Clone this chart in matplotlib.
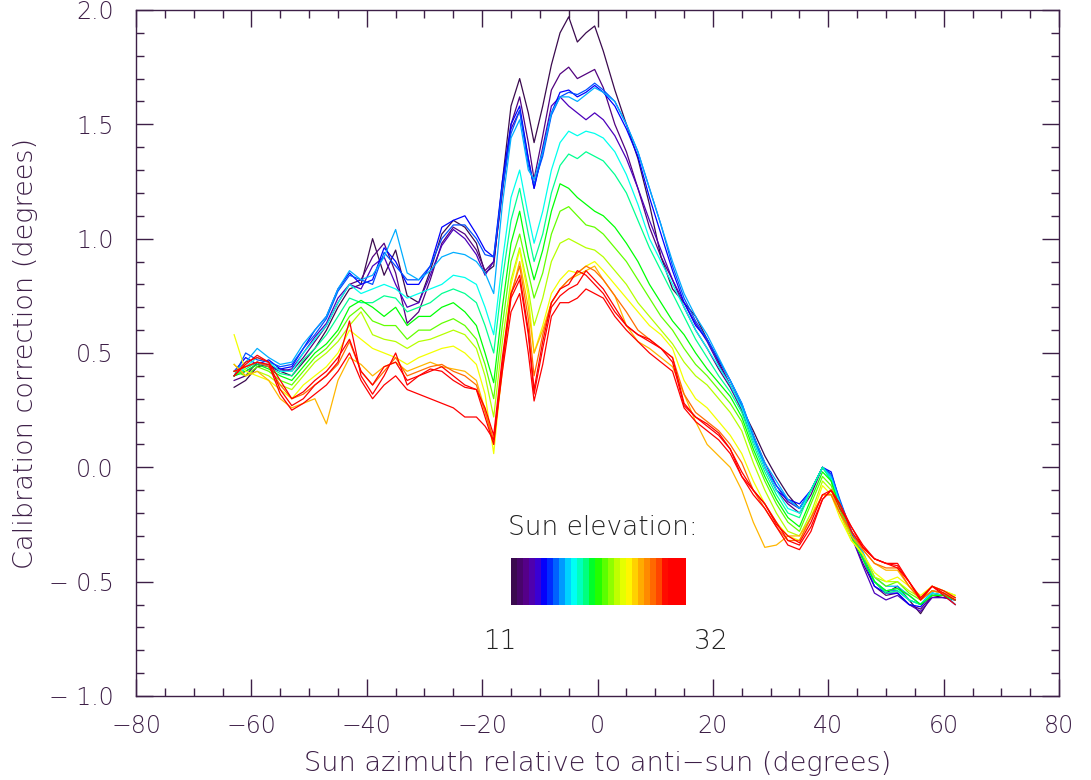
import numpy as np
import matplotlib
matplotlib.use("Agg")
import matplotlib.pyplot as plt
from matplotlib.colors import LinearSegmentedColormap
from matplotlib.ticker import MultipleLocator

# Azimuth grid (degrees relative to anti-sun)
azimuth = [-63, -61, -59, -57, -55, -53, -51, -49, -47, -45, -43, -41, -39, -37, -35, -33,
           -31, -29, -27, -25, -23, -21,
           -19.5, -18, -16.5, -15, -13.5, -12, -11, -9.5, -8, -6.5, -5, -3.5, -2, -0.5,
           1, 3, 5, 7, 9, 11, 13, 15, 17, 19, 21, 23, 25, 27, 29, 31, 33, 35, 37, 39,
           40.5, 42, 44, 46, 48, 50, 52, 54, 56, 58, 60, 62]

# Position of each curve along the colour scale (0 = lowest sun, 1 = highest)
elev_pos = [0.0, 0.06, 0.12, 0.18, 0.24, 0.30, 0.36, 0.42, 0.48, 0.54, 0.60, 0.66,
            0.74, 0.82, 0.90, 0.95, 1.0]

corr_a = [0.35, 0.38, 0.44, 0.45, 0.42, 0.40, 0.46, 0.52, 0.60, 0.70, 0.78, 0.80, 1.00, 0.84, 0.95, 0.75,
          0.72, 0.86, 1.02, 1.08, 1.05, 0.98,
          0.85, 0.88, 1.25, 1.58, 1.70, 1.55, 1.42, 1.58, 1.76, 1.90, 1.97, 1.86, 1.90, 1.93,
          1.82, 1.65, 1.50, 1.35, 1.15, 0.92, 0.78, 0.72, 0.66, 0.56, 0.46, 0.36, 0.26, 0.16, 0.05, -0.04, -0.12, -0.18, -0.10, 0.00,
          -0.05, -0.15, -0.28, -0.40, -0.50, -0.55, -0.52, -0.58, -0.64, -0.56, -0.57, -0.58]
corr_b = [0.38, 0.40, 0.46, 0.44, 0.43, 0.42, 0.48, 0.55, 0.62, 0.72, 0.80, 0.82, 0.92, 0.98, 0.85, 0.63,
          0.68, 0.82, 0.98, 1.05, 1.02, 0.95,
          0.86, 0.90, 1.20, 1.50, 1.62, 1.42, 1.26, 1.45, 1.65, 1.72, 1.75, 1.70, 1.72, 1.74,
          1.66, 1.50, 1.38, 1.22, 1.05, 0.92, 0.82, 0.70, 0.60, 0.52, 0.43, 0.35, 0.25, 0.12, 0.00, -0.10, -0.16, -0.20, -0.12, 0.00,
          -0.03, -0.16, -0.30, -0.42, -0.52, -0.56, -0.55, -0.60, -0.62, -0.56, -0.56, -0.58]
corr_c = [0.40, 0.42, 0.45, 0.44, 0.42, 0.43, 0.50, 0.57, 0.63, 0.74, 0.80, 0.78, 0.88, 0.92, 0.80, 0.70,
          0.72, 0.84, 0.97, 1.04, 1.00, 0.93,
          0.84, 0.90, 1.22, 1.48, 1.56, 1.35, 1.22, 1.40, 1.58, 1.62, 1.58, 1.55, 1.52, 1.55,
          1.52, 1.45, 1.35, 1.22, 1.08, 0.95, 0.82, 0.72, 0.63, 0.55, 0.45, 0.36, 0.26, 0.14, 0.02, -0.08, -0.15, -0.18, -0.10, 0.00,
          -0.05, -0.18, -0.30, -0.43, -0.55, -0.58, -0.56, -0.60, -0.63, -0.57, -0.57, -0.58]
corr_d = [0.42, 0.48, 0.45, 0.47, 0.43, 0.44, 0.52, 0.60, 0.66, 0.78, 0.85, 0.80, 0.82, 0.96, 0.90, 0.80,
          0.80, 0.88, 1.05, 1.08, 1.10, 1.02,
          0.95, 0.92, 1.25, 1.50, 1.58, 1.35, 1.22, 1.38, 1.55, 1.64, 1.65, 1.62, 1.64, 1.67,
          1.64, 1.58, 1.48, 1.36, 1.18, 1.02, 0.86, 0.72, 0.62, 0.56, 0.47, 0.38, 0.28, 0.14, 0.00, -0.10, -0.14, -0.16, -0.10, 0.00,
          -0.02, -0.15, -0.28, -0.40, -0.52, -0.55, -0.55, -0.60, -0.61, -0.55, -0.56, -0.60]
corr_e = [0.40, 0.50, 0.47, 0.46, 0.44, 0.45, 0.52, 0.58, 0.65, 0.77, 0.84, 0.82, 0.80, 0.94, 0.88, 0.82,
          0.82, 0.88, 1.00, 1.06, 1.06, 1.00,
          0.93, 0.92, 1.22, 1.46, 1.56, 1.32, 1.24, 1.36, 1.54, 1.62, 1.64, 1.63, 1.65, 1.68,
          1.65, 1.60, 1.50, 1.38, 1.22, 1.06, 0.88, 0.74, 0.64, 0.56, 0.47, 0.38, 0.27, 0.12, 0.00, -0.08, -0.14, -0.18, -0.10, 0.00,
          -0.03, -0.14, -0.28, -0.38, -0.50, -0.54, -0.54, -0.58, -0.60, -0.55, -0.56, -0.58]
corr_f = [0.42, 0.46, 0.52, 0.48, 0.45, 0.46, 0.54, 0.60, 0.66, 0.78, 0.86, 0.82, 0.84, 0.92, 1.04, 0.85,
          0.82, 0.86, 0.92, 0.94, 0.93, 0.90,
          0.85, 0.76, 1.15, 1.44, 1.52, 1.30, 1.26, 1.38, 1.55, 1.62, 1.62, 1.60, 1.63, 1.66,
          1.64, 1.60, 1.50, 1.38, 1.22, 1.06, 0.90, 0.76, 0.66, 0.58, 0.48, 0.38, 0.28, 0.14, 0.02, -0.06, -0.14, -0.18, -0.10, 0.00,
          -0.04, -0.15, -0.28, -0.37, -0.48, -0.52, -0.52, -0.56, -0.60, -0.54, -0.55, -0.60]
corr_g = [0.40, 0.44, 0.48, 0.46, 0.42, 0.42, 0.50, 0.56, 0.62, 0.72, 0.80, 0.76, 0.78, 0.80, 0.78, 0.74,
          0.76, 0.78, 0.80, 0.84, 0.83, 0.80,
          0.70, 0.58, 0.90, 1.18, 1.30, 1.10, 0.98, 1.12, 1.30, 1.42, 1.47, 1.45, 1.47, 1.46,
          1.44, 1.38, 1.28, 1.15, 1.00, 0.90, 0.80, 0.70, 0.60, 0.52, 0.44, 0.36, 0.26, 0.12, 0.00, -0.10, -0.18, -0.20, -0.10, 0.00,
          -0.05, -0.16, -0.30, -0.40, -0.50, -0.54, -0.53, -0.58, -0.60, -0.55, -0.56, -0.58]
corr_h = [0.40, 0.43, 0.46, 0.44, 0.41, 0.40, 0.47, 0.52, 0.58, 0.66, 0.74, 0.72, 0.72, 0.75, 0.74, 0.68,
          0.70, 0.72, 0.76, 0.78, 0.76, 0.72,
          0.62, 0.50, 0.82, 1.08, 1.22, 1.02, 0.90, 1.02, 1.20, 1.32, 1.37, 1.35, 1.38, 1.36,
          1.34, 1.28, 1.20, 1.08, 0.96, 0.86, 0.76, 0.66, 0.56, 0.48, 0.40, 0.33, 0.24, 0.10, -0.02, -0.12, -0.20, -0.22, -0.10, 0.00,
          -0.06, -0.18, -0.30, -0.40, -0.50, -0.55, -0.54, -0.58, -0.60, -0.56, -0.56, -0.58]
corr_i = [0.40, 0.42, 0.45, 0.43, 0.40, 0.38, 0.44, 0.50, 0.54, 0.60, 0.70, 0.73, 0.70, 0.66, 0.70, 0.62,
          0.66, 0.66, 0.70, 0.72, 0.68, 0.62,
          0.50, 0.37, 0.70, 0.98, 1.12, 0.92, 0.82, 0.95, 1.12, 1.24, 1.22, 1.18, 1.15, 1.12,
          1.10, 1.05, 0.98, 0.90, 0.80, 0.72, 0.64, 0.58, 0.50, 0.43, 0.37, 0.31, 0.22, 0.08, -0.04, -0.14, -0.22, -0.26, -0.14, -0.02,
          -0.06, -0.18, -0.30, -0.40, -0.50, -0.54, -0.53, -0.56, -0.60, -0.56, -0.56, -0.58]
corr_j = [0.42, 0.40, 0.44, 0.42, 0.38, 0.36, 0.42, 0.48, 0.52, 0.58, 0.66, 0.70, 0.64, 0.62, 0.62, 0.56,
          0.60, 0.60, 0.63, 0.65, 0.62, 0.56,
          0.45, 0.30, 0.62, 0.90, 1.02, 0.85, 0.74, 0.85, 1.02, 1.12, 1.14, 1.10, 1.06, 1.05,
          1.02, 0.96, 0.90, 0.82, 0.74, 0.66, 0.60, 0.52, 0.45, 0.40, 0.34, 0.28, 0.20, 0.06, -0.06, -0.16, -0.24, -0.28, -0.16, -0.04,
          -0.08, -0.18, -0.30, -0.38, -0.48, -0.52, -0.50, -0.55, -0.58, -0.54, -0.55, -0.57]
corr_k = [0.45, 0.40, 0.42, 0.40, 0.36, 0.34, 0.40, 0.46, 0.50, 0.55, 0.62, 0.68, 0.58, 0.56, 0.55, 0.52,
          0.55, 0.56, 0.58, 0.60, 0.58, 0.52,
          0.40, 0.22, 0.55, 0.82, 0.96, 0.78, 0.62, 0.74, 0.90, 0.98, 1.00, 0.98, 0.96, 0.95,
          0.92, 0.86, 0.80, 0.72, 0.66, 0.60, 0.54, 0.46, 0.40, 0.36, 0.30, 0.24, 0.16, 0.02, -0.10, -0.20, -0.28, -0.30, -0.20, -0.06,
          -0.10, -0.20, -0.32, -0.38, -0.48, -0.50, -0.50, -0.54, -0.57, -0.52, -0.54, -0.56]
corr_l = [0.58, 0.42, 0.40, 0.38, 0.34, 0.30, 0.36, 0.40, 0.44, 0.50, 0.60, 0.56, 0.52, 0.50, 0.48, 0.45,
          0.48, 0.50, 0.52, 0.53, 0.50, 0.45,
          0.32, 0.06, 0.45, 0.80, 0.95, 0.75, 0.50, 0.62, 0.76, 0.82, 0.86, 0.85, 0.88, 0.90,
          0.86, 0.80, 0.74, 0.68, 0.62, 0.58, 0.52, 0.38, 0.30, 0.26, 0.20, 0.14, 0.06, -0.06, -0.16, -0.24, -0.30, -0.32, -0.22, -0.08,
          -0.12, -0.22, -0.32, -0.38, -0.46, -0.50, -0.48, -0.52, -0.56, -0.52, -0.54, -0.56]
corr_m = [0.45, 0.40, 0.42, 0.38, 0.30, 0.26, 0.28, 0.30, 0.19, 0.38, 0.48, 0.45, 0.40, 0.44, 0.46, 0.42,
          0.44, 0.46, 0.44, 0.43, 0.42, 0.38,
          0.25, 0.10, 0.42, 0.75, 0.90, 0.70, 0.50, 0.60, 0.72, 0.78, 0.82, 0.84, 0.86, 0.88,
          0.82, 0.75, 0.62, 0.55, 0.52, 0.48, 0.44, 0.32, 0.20, 0.10, 0.05, 0.00, -0.10, -0.24, -0.35, -0.34, -0.30, -0.30, -0.22, -0.12,
          -0.12, -0.20, -0.30, -0.36, -0.42, -0.45, -0.45, -0.52, -0.58, -0.54, -0.55, -0.57]
corr_n = [0.42, 0.44, 0.46, 0.44, 0.36, 0.30, 0.32, 0.36, 0.40, 0.45, 0.55, 0.42, 0.36, 0.42, 0.48, 0.40,
          0.42, 0.44, 0.45, 0.42, 0.40, 0.36,
          0.24, 0.12, 0.45, 0.76, 0.88, 0.65, 0.40, 0.58, 0.72, 0.78, 0.82, 0.85, 0.88, 0.86,
          0.82, 0.75, 0.68, 0.60, 0.56, 0.52, 0.48, 0.32, 0.24, 0.20, 0.16, 0.10, 0.02, -0.10, -0.18, -0.26, -0.32, -0.32, -0.22, -0.12,
          -0.12, -0.20, -0.28, -0.36, -0.42, -0.44, -0.44, -0.52, -0.58, -0.54, -0.55, -0.58]
corr_o = [0.40, 0.46, 0.48, 0.46, 0.34, 0.27, 0.30, 0.36, 0.40, 0.46, 0.64, 0.40, 0.32, 0.40, 0.50, 0.36,
          0.40, 0.42, 0.44, 0.40, 0.36, 0.34,
          0.22, 0.10, 0.45, 0.74, 0.82, 0.58, 0.32, 0.52, 0.70, 0.75, 0.78, 0.80, 0.86, 0.82,
          0.78, 0.70, 0.62, 0.58, 0.56, 0.52, 0.48, 0.28, 0.22, 0.18, 0.14, 0.08, -0.02, -0.10, -0.16, -0.24, -0.32, -0.34, -0.26, -0.14,
          -0.10, -0.16, -0.26, -0.34, -0.40, -0.42, -0.42, -0.50, -0.58, -0.52, -0.55, -0.58]
corr_p = [0.40, 0.45, 0.49, 0.46, 0.38, 0.30, 0.33, 0.38, 0.42, 0.48, 0.56, 0.42, 0.36, 0.44, 0.46, 0.38,
          0.40, 0.43, 0.42, 0.38, 0.35, 0.34,
          0.26, 0.14, 0.48, 0.76, 0.84, 0.60, 0.34, 0.55, 0.72, 0.78, 0.80, 0.86, 0.84, 0.80,
          0.76, 0.68, 0.62, 0.58, 0.55, 0.52, 0.46, 0.27, 0.22, 0.19, 0.15, 0.08, -0.04, -0.10, -0.16, -0.25, -0.30, -0.33, -0.24, -0.12,
          -0.10, -0.18, -0.26, -0.35, -0.40, -0.42, -0.43, -0.50, -0.57, -0.52, -0.54, -0.57]
corr_q = [0.42, 0.44, 0.46, 0.45, 0.32, 0.25, 0.28, 0.32, 0.36, 0.42, 0.50, 0.38, 0.30, 0.36, 0.40, 0.34,
          0.32, 0.30, 0.28, 0.26, 0.22, 0.22,
          0.18, 0.12, 0.42, 0.68, 0.76, 0.50, 0.29, 0.45, 0.66, 0.72, 0.72, 0.74, 0.78, 0.76,
          0.74, 0.66, 0.60, 0.55, 0.50, 0.46, 0.42, 0.26, 0.20, 0.16, 0.12, 0.06, -0.04, -0.12, -0.18, -0.26, -0.34, -0.36, -0.28, -0.14,
          -0.10, -0.16, -0.28, -0.35, -0.40, -0.42, -0.44, -0.50, -0.58, -0.52, -0.56, -0.60]

curves = [corr_a, corr_b, corr_c, corr_d, corr_e, corr_f, corr_g, corr_h, corr_i,
          corr_j, corr_k, corr_l, corr_m, corr_n, corr_o, corr_p, corr_q]

# IDL-style rainbow colour table
rainbow = LinearSegmentedColormap.from_list("idl_rainbow", [
    (0.00, "#3a0a4e"), (0.07, "#560088"), (0.13, "#4a00c8"), (0.18, "#0000ff"),
    (0.25, "#0060ff"), (0.30, "#00b0ff"), (0.35, "#00ffff"), (0.42, "#00ff90"),
    (0.48, "#00ff00"), (0.55, "#70ff00"), (0.62, "#d0ff00"), (0.67, "#ffff00"),
    (0.73, "#ffc000"), (0.80, "#ff8000"), (0.87, "#ff3c00"), (0.90, "#ff0000"),
    (1.00, "#ff0000")])

axis_col = "#3d1f47"

plt.rcParams["font.family"] = ["DejaVu Sans"]
plt.rcParams["font.weight"] = "light"

fig = plt.figure(figsize=(10.91, 7.80), dpi=100)
ax = fig.add_axes([0.1247, 0.1077, 0.846, 0.8795])

for pos, vals in zip(elev_pos, curves):
    ax.plot(azimuth, vals, color=rainbow(pos), lw=0.9)

ax.set_xlim(-80, 80)
ax.set_ylim(-1.0, 2.0)
ax.xaxis.set_major_locator(MultipleLocator(20))
ax.xaxis.set_minor_locator(MultipleLocator(5))
ax.yaxis.set_major_locator(MultipleLocator(0.5))
ax.yaxis.set_minor_locator(MultipleLocator(0.1))
ax.xaxis.set_major_formatter(plt.FuncFormatter(lambda v, p: f"{v:.0f}".replace("-", "\u2212")))
ax.yaxis.set_major_formatter(plt.FuncFormatter(lambda v, p: f"{v:.1f}".replace("-", "\u2212 ")))
ax.tick_params(which="both", direction="in", top=True, right=True, colors=axis_col,
               labelsize=17, labelcolor=axis_col)
ax.tick_params(which="major", length=12, width=1)
ax.tick_params(which="minor", length=6, width=1)
ax.tick_params(axis="x", pad=13)
ax.tick_params(axis="y", pad=16)
for sp in ax.spines.values():
    sp.set_color(axis_col)
    sp.set_linewidth(1)

ax.set_xlabel("Sun azimuth relative to anti\u2212sun (degrees)", fontsize=19.5, color=axis_col,
              fontweight="light", labelpad=9)
ax.set_ylabel("Calibration correction (degrees)", fontsize=19.5, color=axis_col,
              fontweight="light", labelpad=8)

# Colour key
fig.text(0.4655, 0.324, "Sun elevation:", fontsize=19, color="#222222", va="center", ha="left")
cax = fig.add_axes([0.4684, 0.2244, 0.1604, 0.0603])
cax.imshow([list(range(29))], cmap=rainbow, aspect="auto", interpolation="nearest")
cax.set_axis_off()
fig.text(0.4585, 0.178, "11", fontsize=19, color="#222222", va="center", ha="center")
fig.text(0.6515, 0.178, "32", fontsize=19, color="#222222", va="center", ha="center")

fig.savefig("out.png", dpi=100)
